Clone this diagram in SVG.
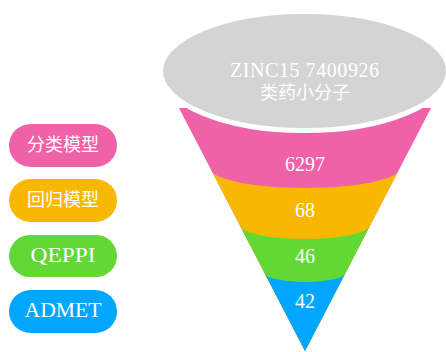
<svg xmlns="http://www.w3.org/2000/svg" width="446" height="352" viewBox="0 0 446 352">
<style>
.lt{font-family:"Liberation Serif","Times New Roman",serif;font-size:20px;fill:#ffffff;text-anchor:middle}
.pl{font-family:"Liberation Serif","Times New Roman",serif;font-size:21px;fill:#ffffff;text-anchor:middle}
.cj{font-family:"Liberation Serif","Noto Sans CJK SC",serif;font-size:18px;fill:#ffffff;text-anchor:middle}
.pill{stroke:none}
</style>
<defs>
<clipPath id="funnelClip"><polygon points="179,108 431,108 305,351"/></clipPath>
</defs>
<rect width="446" height="352" fill="#ffffff"/>
<g id="funnel" clip-path="url(#funnelClip)">
<rect id="band-pink" x="170" y="100" width="270" height="260" fill="#F062A8"/>
<path id="band-yellow" d="M170,168 L210,168 A95,20 0 0 0 400,168 L440,168 L440,360 L170,360 Z" fill="#F8B800"/>
<path id="band-green" d="M170,225 L240,225 A65,14 0 0 0 370,225 L440,225 L440,360 L170,360 Z" fill="#62D836"/>
<path id="band-blue" d="M170,273 L264.6,273 A40.4,9 0 0 0 345.4,273 L440,273 L440,360 L170,360 Z" fill="#00A6FF"/>
</g>
<g id="node-zinc">
<ellipse cx="304.5" cy="71" rx="144" ry="59.5" fill="#D4D4D4" stroke="#ffffff" stroke-width="5"/>
<text class="lt" x="304.5" y="77" textLength="149" lengthAdjust="spacing">ZINC15 7400926</text>
<text class="cj" x="305" y="99">类药小分子</text>
</g>
<g id="labels-funnel">
<text class="lt" x="305" y="171">6297</text>
<text class="lt" x="305" y="217">68</text>
<text class="lt" x="305" y="263">46</text>
<text class="lt" x="305" y="308">42</text>
</g>
<g id="node-classify">
<rect class="pill" x="9" y="124" width="108" height="43" rx="21.5" fill="#F062A8"/>
<text class="cj" x="63" y="151">分类模型</text>
</g>
<g id="node-regress">
<rect class="pill" x="9" y="179" width="108" height="43" rx="21.5" fill="#F8B800"/>
<text class="cj" x="63" y="206">回归模型</text>
</g>
<g id="node-qeppi">
<rect class="pill" x="9" y="235" width="108" height="42" rx="21" fill="#62D836"/>
<text class="pl" x="63" y="262" textLength="65" lengthAdjust="spacingAndGlyphs">QEPPI</text>
</g>
<g id="node-admet">
<rect class="pill" x="9" y="290" width="108" height="43" rx="21.5" fill="#00A6FF"/>
<text class="pl" x="63" y="317" textLength="77" lengthAdjust="spacingAndGlyphs">ADMET</text>
</g>
<g id="connectors"/>
</svg>
